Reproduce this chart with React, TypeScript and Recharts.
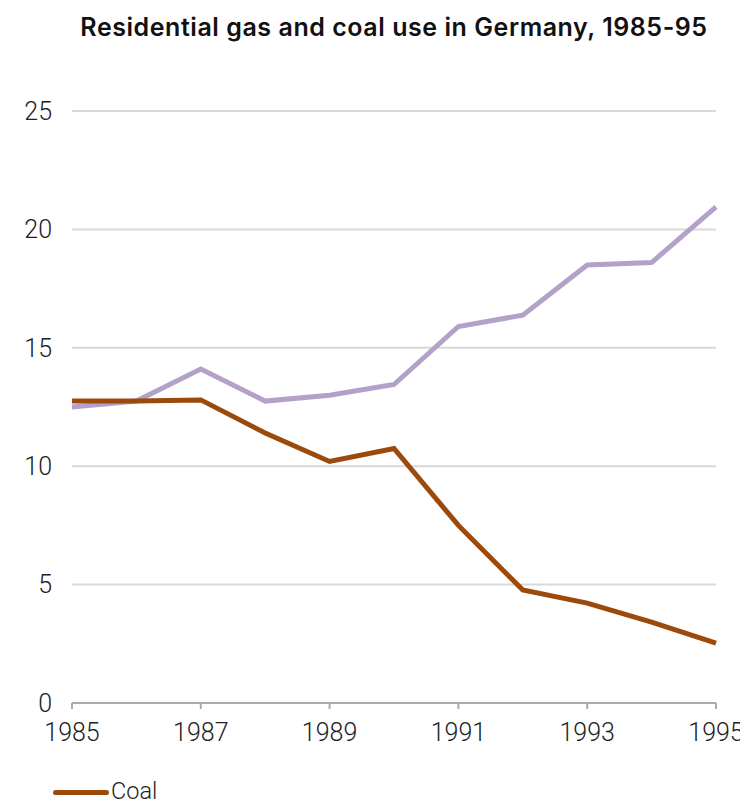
import React from "react";
import { LineChart, Line, XAxis, YAxis, CartesianGrid, Legend } from "recharts";

const years = [1985, 1986, 1987, 1988, 1989, 1990, 1991, 1992, 1993, 1994, 1995];
const gas = [12.5, 12.75, 14.1, 12.75, 13.0, 13.45, 15.9, 16.38, 18.5, 18.6, 20.95];
const coal = [12.75, 12.75, 12.8, 11.4, 10.2, 10.75, 7.5, 4.77, 4.22, 3.42, 2.53];
const xTicks = [1985, 1987, 1989, 1991, 1993, 1995];
const yTicks = [0, 5, 10, 15, 20, 25];
const title = "Residential gas and coal use in Germany, 1985-95";

const data = years.map((y, i) => ({ year: y, Gas: gas[i], Coal: coal[i] }));

const GAS_COLOR = "#b3a1ca";
const COAL_COLOR = "#9c4a0b";
const FONT = "Roboto, 'Noto Sans', sans-serif";

const renderLegend = (props: any) => {
  const items = (props.payload || []).filter((p: any) => p.value === "Coal");
  return (
    <div style={{ display: "flex", alignItems: "center", fontFamily: FONT, fontWeight: 300, fontSize: 23.5, color: "#222", height: 28 }}>
      {items.map((p: any) => (
        <div key={p.value} style={{ display: "flex", alignItems: "center", height: 28 }}>
          <div style={{ width: 56, height: 5, borderRadius: 3, background: p.color, position: "relative", top: 1 }} />
          <span style={{ marginLeft: 2, lineHeight: "28px", whiteSpace: "nowrap" }}>{p.value}</span>
        </div>
      ))}
    </div>
  );
};

export default function App() {
  return (
    <div style={{ position: "relative", width: 740, height: 797 }}>
      <div
        style={{
          position: "absolute",
          left: 64,
          width: 644,
          top: 4,
          textAlign: "center",
          fontFamily: "Inter, Roboto, sans-serif",
          fontWeight: 600,
          fontSize: 25,
          letterSpacing: 0.55,
          whiteSpace: "nowrap",
          color: "#111",
          lineHeight: "30px",
          zIndex: 2,
        }}
      >
        {title}
      </div>
      <LineChart width={740} height={797} data={data} margin={{ top: 103, right: 32, left: 0, bottom: 0 }}>
        <CartesianGrid horizontal={true} vertical={false} stroke="#d9d9d9" strokeWidth={2} />
        <XAxis
          dataKey="year"
          type="number"
          domain={[1985, 1995]}
          ticks={xTicks}
          interval={0}
          height={74}
          stroke="#aaaaaa"
          strokeWidth={2}
          tickSize={6}
          tickMargin={14}
          tick={{ fill: "#222", fontSize: 25, fontFamily: FONT, fontWeight: 300 }}
        />
        <YAxis
          type="number"
          domain={[0, 25]}
          ticks={yTicks}
          interval={0}
          width={64}
          axisLine={false}
          tickLine={false}
          tickSize={0}
          tickMargin={20}
          tick={{ fill: "#222", fontSize: 25, fontFamily: FONT, fontWeight: 300 }}
        />
        <Legend verticalAlign="bottom" align="left" content={renderLegend} wrapperStyle={{ left: 45, top: 769, bottom: "auto", height: 28 }} />
        <Line type="linear" dataKey="Gas" stroke={GAS_COLOR} strokeWidth={5} dot={false} isAnimationActive={false} legendType="none" />
        <Line type="linear" dataKey="Coal" stroke={COAL_COLOR} strokeWidth={5} dot={false} isAnimationActive={false} />
      </LineChart>
    </div>
  );
}
